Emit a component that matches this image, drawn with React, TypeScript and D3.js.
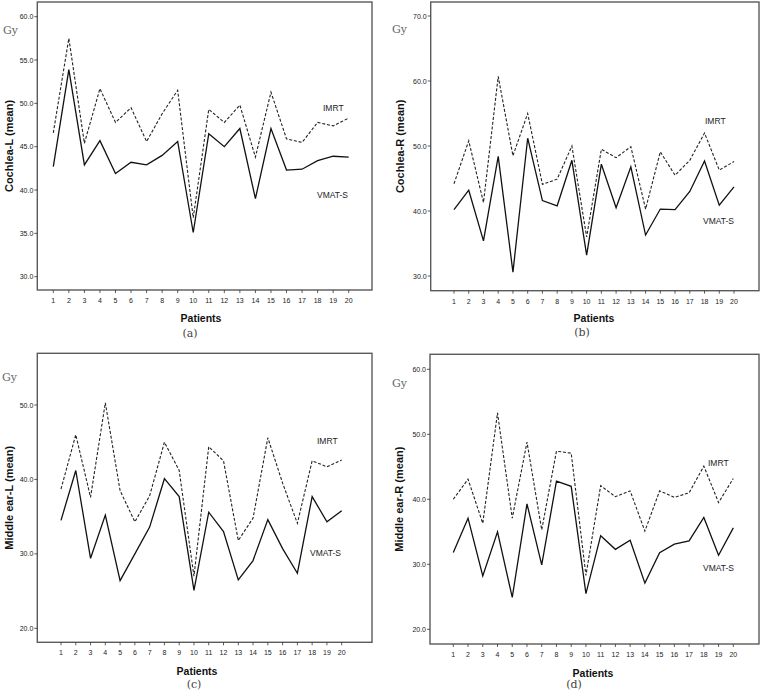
import React from "react";
import * as d3 from "d3";

// ---------- data ----------
const patients = [1, 2, 3, 4, 5, 6, 7, 8, 9, 10, 11, 12, 13, 14, 15, 16, 17, 18, 19, 20];

const cochleaL_IMRT = [46.6, 57.5, 45.4, 51.7, 47.8, 49.5, 45.6, 48.8, 51.5, 36.8, 49.3, 47.8, 49.8, 43.8, 51.3, 45.9, 45.5, 47.8, 47.4, 48.3];
const cochleaL_VMAT = [42.7, 53.9, 42.9, 45.7, 41.9, 43.2, 42.9, 44.0, 45.6, 35.1, 46.5, 45.0, 47.1, 39.0, 47.1, 42.3, 42.4, 43.4, 43.9, 43.8];

const cochleaR_IMRT = [44.2, 50.8, 41.3, 60.7, 48.5, 55.0, 44.1, 44.9, 50.0, 36.0, 49.5, 48.2, 49.9, 40.3, 49.1, 45.5, 47.8, 52.0, 46.3, 47.6];
const cochleaR_VMAT = [40.2, 43.2, 35.4, 48.4, 30.6, 51.2, 41.6, 40.8, 47.8, 33.2, 47.2, 40.5, 46.8, 36.3, 40.3, 40.2, 43.0, 47.7, 40.9, 43.7];

const middleL_IMRT = [38.7, 46.0, 37.6, 50.3, 38.5, 34.3, 37.8, 45.0, 41.2, 27.0, 44.4, 42.5, 31.8, 34.8, 45.6, 39.5, 34.1, 42.5, 41.7, 42.6];
const middleL_VMAT = [34.5, 41.2, 29.4, 35.2, 26.4, 30.0, 33.6, 40.1, 37.7, 25.1, 35.6, 33.0, 26.5, 29.1, 34.6, 30.7, 27.4, 37.7, 34.3, 35.8];

const middleR_IMRT = [40.0, 43.1, 36.3, 53.3, 37.1, 48.8, 35.3, 47.4, 47.1, 28.3, 42.1, 40.4, 41.3, 35.1, 41.3, 40.3, 41.0, 45.1, 39.5, 43.2];
const middleR_VMAT = [31.8, 37.1, 28.2, 35.0, 24.9, 39.3, 29.9, 42.8, 42.0, 25.5, 34.4, 32.3, 33.7, 27.1, 31.8, 33.1, 33.6, 37.2, 31.4, 35.6];

const yTicksA = [30, 35, 40, 45, 50, 55, 60];
const yTicksB = [30, 40, 50, 60, 70];
const yTicksC = [20, 30, 40, 50];
const yTicksD = [20, 30, 40, 50, 60];

const yTitles = ["Cochlea-L (mean)", "Cochlea-R (mean)", "Middle ear-L (mean)", "Middle ear-R (mean)"];
const panelTags = ["(a)", "(b)", "(c)", "(d)"];
const seriesNames = ["IMRT", "VMAT-S"];

// ---------- layout (pixels) ----------
type Layout = {
  frame: [number, number, number, number];
  xPx: [number, number];
  yVals: [number, number];
  yPx: [number, number];
  titleX: number;
  gy: [number, number];
  patients: [number, number];
  tag: [number, number];
  imrt: [number, number];
  vmat: [number, number];
};

const layouts: Layout[] = [
  { frame: [37.3, 2, 372, 290], xPx: [53.3, 348.7], yVals: [30, 60], yPx: [276.7, 16.7], titleX: 9, gy: [3, 34], patients: [201, 322], tag: [190, 337], imrt: [323, 111], vmat: [317, 198] },
  { frame: [430.7, 2, 759, 290.7], xPx: [454, 734], yVals: [30, 70], yPx: [276, 16], titleX: 400, gy: [392, 33], patients: [594, 322], tag: [582, 336], imrt: [705, 124], vmat: [703, 224] },
  { frame: [37.3, 353.3, 372, 642.3], xPx: [61, 341.7], yVals: [20, 50], yPx: [628.3, 405], titleX: 9, gy: [2, 381], patients: [197, 675], tag: [194, 688], imrt: [317, 444], vmat: [310, 556] },
  { frame: [430, 354.3, 759, 644], xPx: [453.3, 733.3], yVals: [20, 60], yPx: [629.3, 369.3], titleX: 399, gy: [392, 387], patients: [593, 677], tag: [574, 688], imrt: [708, 466], vmat: [703, 571] },
];

const panelData = [
  { imrt: cochleaL_IMRT, vmat: cochleaL_VMAT, yTicks: yTicksA },
  { imrt: cochleaR_IMRT, vmat: cochleaR_VMAT, yTicks: yTicksB },
  { imrt: middleL_IMRT, vmat: middleL_VMAT, yTicks: yTicksC },
  { imrt: middleR_IMRT, vmat: middleR_VMAT, yTicks: yTicksD },
];

const sans = "'Liberation Sans', Arial, sans-serif";
const serif = "'DejaVu Serif', 'Liberation Serif', serif";

function Panel({ idx }: { idx: number }) {
  const L = layouts[idx];
  const D = panelData[idx];
  const [fl, ft, fr, fb] = L.frame;
  const x = d3.scaleLinear().domain([1, 20]).range(L.xPx);
  const y = d3.scaleLinear().domain(L.yVals).range(L.yPx);
  const line = d3
    .line<number>()
    .x((_, i) => x(patients[i]))
    .y((d) => y(d));
  const cy = (ft + fb) / 2;
  return (
    <g>
      <rect x={fl} y={ft} width={fr - fl} height={fb - ft} fill="#fff" stroke="#5a5a5a" strokeWidth={1.4} />
      {D.yTicks.map((t) => (
        <g key={"y" + t}>
          <line x1={fl - 3} x2={fl} y1={y(t)} y2={y(t)} stroke="#333" strokeWidth={0.8} />
          <text x={fl - 4} y={y(t) + 2.5} fontSize={7} fontFamily={sans} textAnchor="end" fill="#222">
            {t.toFixed(1)}
          </text>
        </g>
      ))}
      {patients.map((p) => (
        <g key={"x" + p}>
          <line x1={x(p)} x2={x(p)} y1={fb} y2={fb + 3} stroke="#333" strokeWidth={0.8} />
          <text x={x(p)} y={fb + 13} fontSize={7} fontFamily={sans} textAnchor="middle" fill="#222">
            {p}
          </text>
        </g>
      ))}
      <path d={line(D.imrt) || ""} fill="none" stroke="#222" strokeWidth={1.1} strokeDasharray="3,1.8" />
      <path d={line(D.vmat) || ""} fill="none" stroke="#111" strokeWidth={1.3} />
      <text x={L.imrt[0]} y={L.imrt[1]} fontSize={8.5} fontFamily={sans} fill="#222">{seriesNames[0]}</text>
      <text x={L.vmat[0]} y={L.vmat[1]} fontSize={8.5} fontFamily={sans} fill="#222">{seriesNames[1]}</text>
      <text
        transform={`translate(${L.titleX + 4},${cy}) rotate(-90)`}
        fontSize={11}
        fontWeight="bold"
        fontFamily={sans}
        textAnchor="middle"
        fill="#111"
      >
        {yTitles[idx]}
      </text>
      <text x={L.gy[0]} y={L.gy[1]} fontSize={11} fontFamily={serif} fill="#666">Gy</text>
      <text x={L.patients[0]} y={L.patients[1]} fontSize={10.5} fontWeight="bold" fontFamily={sans} textAnchor="middle" fill="#111">
        Patients
      </text>
      <text x={L.tag[0]} y={L.tag[1]} fontSize={11} fontFamily={serif} textAnchor="middle" fill="#444">
        {panelTags[idx]}
      </text>
    </g>
  );
}

export default function App() {
  return (
    <svg
      width={760}
      height={693}
      viewBox="0 0 760 693"
      style={{ position: "absolute", left: 0, top: 0, background: "#fff" }}
    >
      <rect x={0} y={0} width={760} height={693} fill="#fff" />
      {[0, 1, 2, 3].map((i) => (
        <Panel key={i} idx={i} />
      ))}
    </svg>
  );
}
